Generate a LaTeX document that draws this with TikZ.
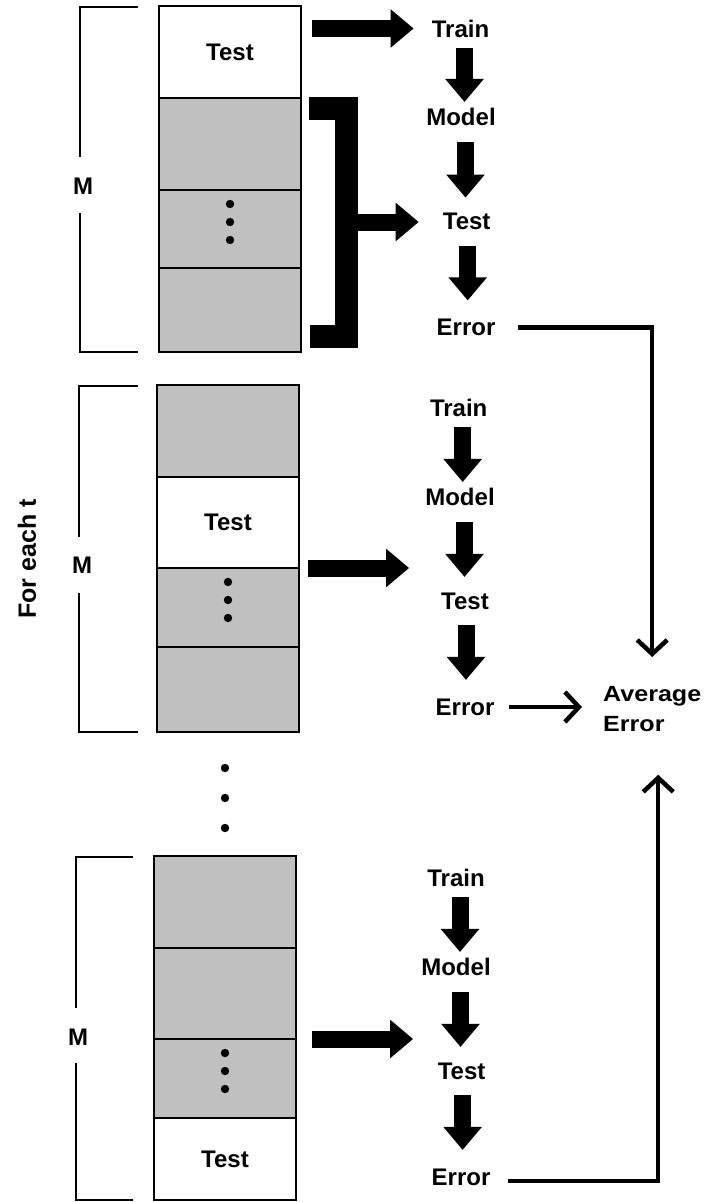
\documentclass[tikz,border=0pt]{standalone}
\usepackage{fontspec}
\usepackage{graphicx}
\setmainfont{Liberation Sans}
\usetikzlibrary{arrows.meta}
\definecolor{cellgrey}{HTML}{C0C0C0}

\begin{document}
\begin{tikzpicture}[x=1pt,y=-1pt,
  lbl/.style={inner sep=0pt, font=\fontsize{24}{28}\selectfont\bfseries},
  cell/.style={draw=black, line width=2.4pt, minimum width=142pt, inner sep=0pt,
               outer sep=0pt, fill=white, font=\fontsize{24}{28}\selectfont\bfseries},
  grey/.style={cell, fill=cellgrey},
  thinbrk/.style={line width=2.4pt},
  fat/.style={line width=17pt, -{Triangle[length=23pt,width=37pt]}},
  conn/.style={line width=4.5pt, -{Straight Barb[length=14pt,width=30pt]}},
]
\useasboundingbox (0,0) rectangle (708,1202);

% ---------- first fold ----------
\node[cell, minimum height=92pt] (a1) at (230,52)  {Test};
\node[grey, minimum height=92pt] (a2) at (230,144) {};
\node[grey, minimum height=78pt] (a3) at (230,229) {};
\node[grey, minimum height=84pt] (a4) at (230,310) {};

% ---------- second fold ----------
\node[grey, minimum height=92pt] (b1) at (228,431)   {};
\node[cell, minimum height=91pt] (b2) at (228,522.5) {Test};
\node[grey, minimum height=79pt] (b3) at (228,607.5) {};
\node[grey, minimum height=85pt] (b4) at (228,689.5) {};

% ---------- last fold ----------
\node[grey, minimum height=92pt] (c1) at (225,902)    {};
\node[grey, minimum height=91pt] (c2) at (225,993.5)  {};
\node[grey, minimum height=79pt] (c3) at (225,1078.5) {};
\node[cell, minimum height=82pt] (c4) at (225,1159)   {Test};

% vertical ellipses inside the folds
\foreach \c in {a3,b3,c3}
  \foreach \d in {14pt,32pt,50pt}
    \fill ([yshift=-\d]\c.north) circle (4.2pt);

% ellipsis between folds
\fill (225,768) circle (4.2pt);
\fill (225,798) circle (4.2pt);
\fill (225,828) circle (4.2pt);

% size brackets
\node[lbl] (m1) at (83,186)  {M};
\node[lbl] (m2) at (82,565)  {M};
\node[lbl] (m3) at (78,1037) {M};
\draw[thinbrk] (138,7) -- (80,7) -- (80,157);
\draw[thinbrk] (80,213) -- (80,352) -- (138,352);
\draw[thinbrk] (138,386) -- (79,386) -- (79,537);
\draw[thinbrk] (79,593) -- (79,732) -- (138,732);
\draw[thinbrk] (133,857) -- (76,857) -- (76,1008);
\draw[thinbrk] (76,1063) -- (76,1200) -- (133,1200);

\node[lbl, font=\fontsize{25}{28}\selectfont\bfseries, rotate=90] (foreach) at (27,559) {For each t};

% ---------- pipelines ----------
\node[lbl] (tr1) at (460.5,28.5) {Train};
\node[lbl] (mo1) at (461,117)    {Model};
\node[lbl] (te1) at (466.7,221.7){Test};
\node[lbl] (er1) at (466,327.5)  {Error};

\node[lbl] (tr2) at (458.7,408) {Train};
\node[lbl] (mo2) at (460,497)   {Model};
\node[lbl] (te2) at (465,601)   {Test};
\node[lbl] (er2) at (465,707)   {Error};

\node[lbl] (tr3) at (456,878)    {Train};
\node[lbl] (mo3) at (456,967)    {Model};
\node[lbl] (te3) at (461.6,1071) {Test};
\node[lbl] (er3) at (461,1177)   {Error};

\foreach \b in {1,2,3} {
  \draw[fat, shorten <=10pt, shorten >=6pt]
    ([xshift=4pt]tr\b.south) -- ([xshift=4pt]tr\b.south |- mo\b.north);
  \draw[fat, shorten <=16pt, shorten >=15.5pt]
    ([xshift=4.5pt]mo\b.south) -- ([xshift=4.5pt]mo\b.south |- te\b.north);
  \draw[fat, shorten <=15.5pt, shorten >=18.5pt]
    ([xshift=1pt]te\b.south) -- ([xshift=1pt]te\b.south |- er\b.north);
}

% data flowing from the folds into the pipelines
\draw[fat, shorten <=11pt, shorten >=18pt] (a1.east |- tr1) -- (tr1.west);
\draw[line width=23pt]
  ([xshift=8pt,yshift=-10.5pt]a2.north east) -- ++(37.5,0)
  |- ([xshift=9pt,yshift=15.5pt]a4.south east);
\coordinate (bk) at (358,222);
\draw[fat, shorten >=24pt] (bk) -- (bk -| te1.west);
\draw[fat, shorten <=9pt, shorten >=16pt] (b2.south east) -- (b2.south east -| mo2.west);
\draw[fat, shorten <=16pt, shorten >=8pt] (c2.south east) -- (c2.south east -| mo3.west);

% ---------- averaging ----------
\node[inner sep=0pt, anchor=north west, align=left, font=\fontsize{22}{30}\selectfont\bfseries]
  (avg) at (603,686) {\scalebox{1.14}[1]{Average}\\\scalebox{1.14}[1]{Error}};

\draw[conn, shorten <=22.7pt, shorten >=29pt] (er1.east) -| (avg.north);
\draw[conn, shorten <=14pt, shorten >=21pt] (er2.east) -- (er2.east -| avg.west);
\draw[conn, shorten <=17.7pt, shorten >=43pt] ([yshift=-4pt]er3.east) -| ([xshift=6pt]avg.south);

\end{tikzpicture}
\end{document}
